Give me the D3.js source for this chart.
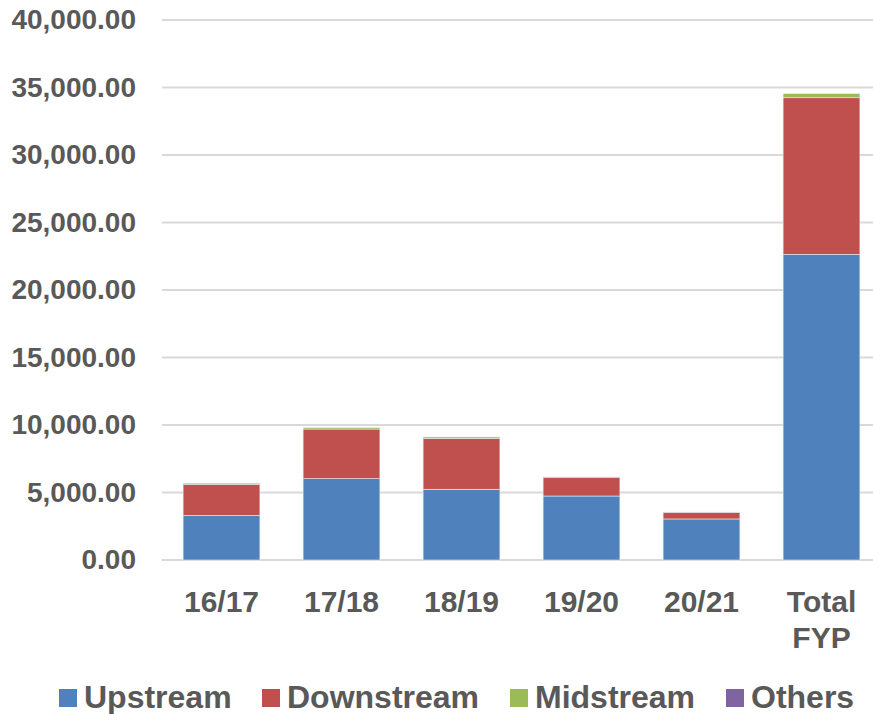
<!DOCTYPE html>
<html lang="en">
<head>
    <meta charset="UTF-8">
    <title>FYP stacked bars</title>
    <script src="https://d3js.org/d3.v7.min.js"></script>
    <style>
        html, body {
            margin: 0;
            background: #fff;
            font-family: "Liberation Sans", Arial, sans-serif;
        }
    </style>
</head>
<body>
    <div id="vis"></div>
    <script>
        // data
        var categories = ["16/17", "17/18", "18/19", "19/20", "20/21", "Total FYP"];
        var series = ["Upstream", "Downstream", "Midstream", "Others"];
        var upstream   = [3310, 6030, 5240, 4740, 3040, 22640];
        var downstream = [2280, 3670, 3760, 1390, 490, 11600];
        var midstream  = [100, 100, 110, 20, 20, 300];
        var others     = [0, 0, 0, 0, 0, 0];
        var yTicks = [0, 5000, 10000, 15000, 20000, 25000, 30000, 35000, 40000];
        var colors = ["#4F81BD", "#C0504D", "#9BBB59", "#8064A2"];

        var W = 873, H = 714;
        var textColor = "#595959";

        var rows = categories.map(function(c, i) {
            return {cat: c, Upstream: upstream[i], Downstream: downstream[i], Midstream: midstream[i], Others: others[i]};
        });

        var svg = d3.select("#vis").append("svg")
            .attr("width", W)
            .attr("height", H);

        var x = d3.scaleBand()
            .domain(categories)
            .range([161.5, 881.5])
            .paddingInner(0.36)
            .paddingOuter(0.18);

        var y = d3.scaleLinear()
            .domain([0, 40000])
            .range([560, 20]);

        // gridlines
        svg.append("g")
            .selectAll("line")
            .data(yTicks)
            .enter().append("line")
                .attr("x1", 162)
                .attr("x2", W)
                .attr("y1", function(d) { return y(d); })
                .attr("y2", function(d) { return y(d); })
                .attr("stroke", "#d9d9d9")
                .attr("stroke-width", 2);

        // y axis labels
        var yAxis = d3.axisLeft(y)
            .tickValues(yTicks)
            .tickSize(0)
            .tickPadding(0)
            .tickFormat(d3.format(",.2f"));

        svg.append("g")
            .attr("transform", "translate(136,0)")
            .call(yAxis)
            .call(function(g) { g.select(".domain").remove(); })
            .selectAll("text")
                .attr("fill", textColor)
                .attr("font-size", 28)
                .attr("font-weight", "bold")
                .attr("font-family", "'Liberation Sans', Arial, sans-serif");

        // stacked bars
        var stack = d3.stack().keys(series)(rows);

        svg.append("g")
            .selectAll("g")
            .data(stack)
            .enter().append("g")
                .attr("fill", function(d, i) { return colors[i]; })
            .selectAll("rect")
            .data(function(d) { return d; })
            .enter().append("rect")
                .attr("x", function(d) { return x(d.data.cat); })
                .attr("width", x.bandwidth())
                .attr("y", function(d) { return y(d[1]); })
                .attr("height", function(d) { return y(d[0]) - y(d[1]); })
                .attr("stroke", "#e6e9f0")
                .attr("stroke-width", 0.6);

        // category labels
        var xl = svg.append("g")
            .selectAll("text")
            .data(categories)
            .enter().append("text")
                .attr("x", function(d) { return x(d) + x.bandwidth() / 2; })
                .attr("y", 612)
                .attr("text-anchor", "middle")
                .attr("fill", textColor)
                .attr("font-size", 30)
                .attr("font-weight", "bold");

        xl.each(function(d) {
            var words = d.split(" ");
            var t = d3.select(this);
            words.forEach(function(w, i) {
                t.append("tspan")
                    .attr("x", x(d) + x.bandwidth() / 2)
                    .attr("dy", i == 0 ? 0 : 36)
                    .text(w);
            });
        });

        // legend
        var legendX = [59, 262, 510, 726];
        var legend = svg.append("g")
            .selectAll("g")
            .data(series)
            .enter().append("g")
                .attr("transform", function(d, i) { return "translate(" + legendX[i] + ",0)"; });

        legend.append("rect")
            .attr("x", 0)
            .attr("y", 689)
            .attr("width", 18)
            .attr("height", 18)
            .attr("fill", function(d, i) { return colors[i]; });

        legend.append("text")
            .attr("x", 25)
            .attr("y", 708)
            .attr("fill", textColor)
            .attr("font-size", 32)
            .attr("font-weight", "bold")
            .text(function(d) { return d; });
    </script>
</body>
</html>
